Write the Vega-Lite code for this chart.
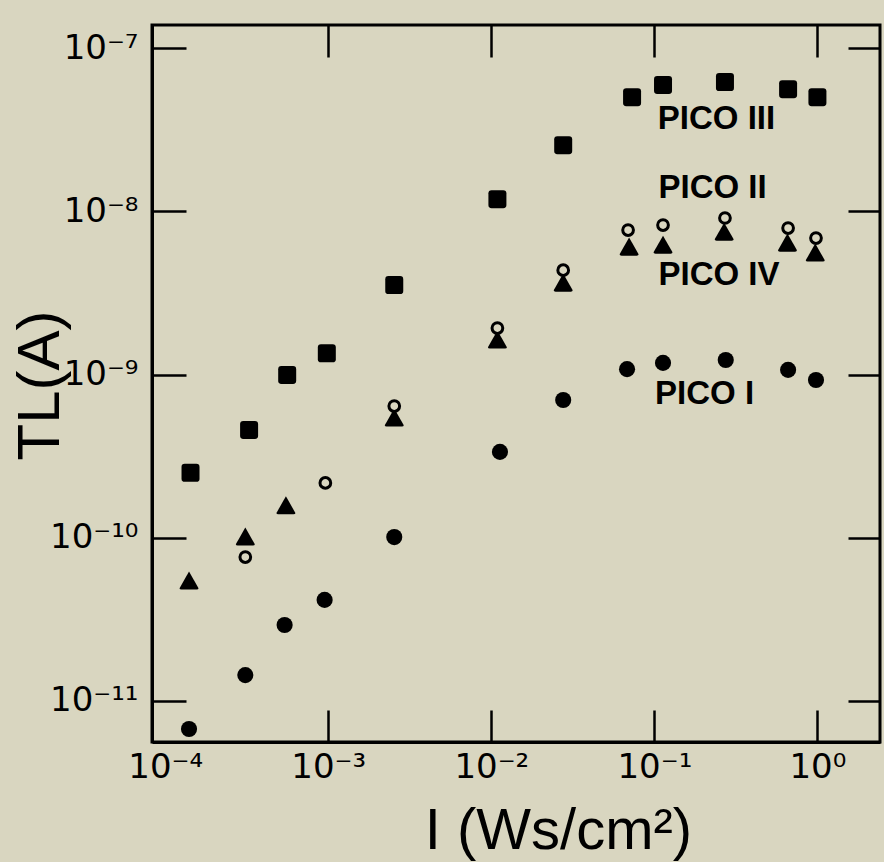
{
  "$schema": "https://vega.github.io/schema/vega-lite/v6.json",
  "width": 728,
  "height": 717,
  "autosize": {"type": "none"},
  "padding": {"left": 152, "top": 25, "right": 4, "bottom": 120},
  "background": "#d9d6c0",
  "config": {
    "view": {"stroke": "black", "strokeWidth": 3},
    "font": "Liberation Sans",
    "axis": {"grid": false}
  },
  "datasets": {
    "points": [
      {"series": "PICO III", "I": 0.000143, "TL": 2.5e-10},
      {"series": "PICO III", "I": 0.000327, "TL": 4.58e-10},
      {"series": "PICO III", "I": 0.00056, "TL": 9.95e-10},
      {"series": "PICO III", "I": 0.00098, "TL": 1.35e-9},
      {"series": "PICO III", "I": 0.00254, "TL": 3.54e-9},
      {"series": "PICO III", "I": 0.0109, "TL": 1.19e-8},
      {"series": "PICO III", "I": 0.0276, "TL": 2.55e-8},
      {"series": "PICO III", "I": 0.073, "TL": 5.02e-8},
      {"series": "PICO III", "I": 0.113, "TL": 5.96e-8},
      {"series": "PICO III", "I": 0.271, "TL": 6.21e-8},
      {"series": "PICO III", "I": 0.661, "TL": 5.62e-8},
      {"series": "PICO III", "I": 1.0, "TL": 5.02e-8},

      {"series": "PICO II", "I": 0.00031, "TL": 7.62e-11},
      {"series": "PICO II", "I": 0.00096, "TL": 2.17e-10},
      {"series": "PICO II", "I": 0.00254, "TL": 6.42e-10},
      {"series": "PICO II", "I": 0.0109, "TL": 1.93e-9},
      {"series": "PICO II", "I": 0.0276, "TL": 4.37e-9},
      {"series": "PICO II", "I": 0.069, "TL": 7.69e-9},
      {"series": "PICO II", "I": 0.113, "TL": 8.26e-9},
      {"series": "PICO II", "I": 0.271, "TL": 9.12e-9},
      {"series": "PICO II", "I": 0.661, "TL": 7.91e-9},
      {"series": "PICO II", "I": 0.98, "TL": 6.87e-9},

      {"series": "PICO IV", "I": 0.00014, "TL": 5.43e-11},
      {"series": "PICO IV", "I": 0.00031, "TL": 1.01e-10},
      {"series": "PICO IV", "I": 0.00055, "TL": 1.57e-10},
      {"series": "PICO IV", "I": 0.00254, "TL": 5.42e-10},
      {"series": "PICO IV", "I": 0.0109, "TL": 1.63e-9},
      {"series": "PICO IV", "I": 0.0276, "TL": 3.64e-9},
      {"series": "PICO IV", "I": 0.07, "TL": 6.05e-9},
      {"series": "PICO IV", "I": 0.113, "TL": 6.21e-9},
      {"series": "PICO IV", "I": 0.268, "TL": 7.46e-9},
      {"series": "PICO IV", "I": 0.655, "TL": 6.4e-9},
      {"series": "PICO IV", "I": 0.97, "TL": 5.56e-9},

      {"series": "PICO I", "I": 0.00014, "TL": 6.73e-12},
      {"series": "PICO I", "I": 0.00031, "TL": 1.44e-11},
      {"series": "PICO I", "I": 0.00054, "TL": 2.92e-11},
      {"series": "PICO I", "I": 0.00095, "TL": 4.16e-11},
      {"series": "PICO I", "I": 0.00254, "TL": 1.01e-10},
      {"series": "PICO I", "I": 0.0113, "TL": 3.36e-10},
      {"series": "PICO I", "I": 0.0276, "TL": 6.99e-10},
      {"series": "PICO I", "I": 0.068, "TL": 1.08e-9},
      {"series": "PICO I", "I": 0.113, "TL": 1.18e-9},
      {"series": "PICO I", "I": 0.274, "TL": 1.23e-9},
      {"series": "PICO I", "I": 0.661, "TL": 1.07e-9},
      {"series": "PICO I", "I": 0.98, "TL": 9.27e-10}
    ],
    "labels": [
      {"label": "PICO III", "I": 0.105, "TL": 3.68e-8},
      {"label": "PICO II", "I": 0.106, "TL": 1.39e-8},
      {"label": "PICO IV", "I": 0.106, "TL": 4.07e-9},
      {"label": "PICO I", "I": 0.101, "TL": 7.6e-10}
    ]
  },
  "resolve": {"axis": {"x": "independent", "y": "independent"}},
  "layer": [
    {
      "data": {"name": "points"},
      "transform": [{"filter": "datum.series === 'PICO III'"}],
      "mark": {
        "type": "point",
        "shape": "M-0.65,-1 L0.65,-1 Q1,-1 1,-0.65 L1,0.65 Q1,1 0.65,1 L-0.65,1 Q-1,1 -1,0.65 L-1,-0.65 Q-1,-1 -0.65,-1 Z",
        "filled": true,
        "fill": "black",
        "opacity": 1,
        "size": 324
      },
      "encoding": {
        "x": {
          "field": "I",
          "type": "quantitative",
          "scale": {"type": "log", "domain": [0.000083, 2.42], "nice": false},
          "axis": {
            "orient": "bottom",
            "values": [0.0001, 0.001, 0.01, 0.1, 1],
            "labelExpr": "datum.value < 0.0005 ? '10⁻⁴' : datum.value < 0.005 ? '10⁻³' : datum.value < 0.05 ? '10⁻²' : datum.value < 0.5 ? '10⁻¹' : '10⁰'",
            "domainColor": "black",
            "domainWidth": 3,
            "ticks": false,
            "labelPadding": 8,
            "labelFont": "DejaVu Sans",
            "labelFontSize": 34,
            "labelColor": "black",
            "labelBaseline": "top",
            "labelFlush": false,
            "labelOverlap": false,
            "title": "I (Ws/cm²)",
            "titleFont": "Liberation Sans",
            "titleFontSize": 58,
            "titleFontWeight": "normal",
            "titleColor": "black",
            "titleX": 406,
            "titleY": 106,
            "titleAlign": "center",
            "titleBaseline": "alphabetic"
          }
        },
        "y": {
          "field": "TL",
          "type": "quantitative",
          "scale": {"type": "log", "domain": [5.6e-12, 1.39e-7], "nice": false},
          "axis": {
            "orient": "left",
            "values": [1e-11, 1e-10, 1e-9, 1e-8, 1e-7],
            "labelExpr": "datum.value < 5e-11 ? '10⁻¹¹' : datum.value < 5e-10 ? '10⁻¹⁰' : datum.value < 5e-9 ? '10⁻⁹' : datum.value < 5e-8 ? '10⁻⁸' : '10⁻⁷'",
            "domainColor": "black",
            "domainWidth": 3,
            "ticks": false,
            "labelPadding": 14,
            "labelFont": "DejaVu Sans",
            "labelFontSize": 34,
            "labelColor": "black",
            "labelFlush": false,
            "labelOverlap": false,
            "title": "TL(A)",
            "titleFont": "Liberation Sans",
            "titleFontSize": 60,
            "titleFontWeight": "normal",
            "titleColor": "black",
            "titleAngle": -90,
            "titleX": -94,
            "titleY": 360,
            "titleAlign": "center",
            "titleBaseline": "alphabetic"
          }
        }
      }
    },
    {
      "data": {"name": "points"},
      "transform": [{"filter": "datum.series === 'PICO IV'"}],
      "mark": {
        "type": "point",
        "shape": "M0,-1 L1,0.75 Q1,0.9 0.8,0.9 L-0.8,0.9 Q-1,0.9 -1,0.75 Z",
        "filled": true,
        "fill": "black",
        "opacity": 1,
        "size": 361
      },
      "encoding": {
        "x": {"field": "I", "type": "quantitative", "scale": {"type": "log"}, "axis": null},
        "y": {"field": "TL", "type": "quantitative", "scale": {"type": "log"}, "axis": null}
      }
    },
    {
      "data": {"name": "points"},
      "transform": [{"filter": "datum.series === 'PICO II'"}],
      "mark": {
        "type": "point",
        "shape": "circle",
        "filled": false,
        "fill": "#d9d6c0",
        "fillOpacity": 1,
        "stroke": "black",
        "strokeWidth": 3,
        "opacity": 1,
        "size": 115
      },
      "encoding": {
        "x": {"field": "I", "type": "quantitative", "scale": {"type": "log"}, "axis": null},
        "y": {"field": "TL", "type": "quantitative", "scale": {"type": "log"}, "axis": null}
      }
    },
    {
      "data": {"name": "points"},
      "transform": [{"filter": "datum.series === 'PICO I'"}],
      "mark": {
        "type": "point",
        "shape": "circle",
        "filled": true,
        "fill": "black",
        "opacity": 1,
        "size": 260
      },
      "encoding": {
        "x": {"field": "I", "type": "quantitative", "scale": {"type": "log"}, "axis": null},
        "y": {"field": "TL", "type": "quantitative", "scale": {"type": "log"}, "axis": null}
      }
    },
    {
      "data": {"name": "labels"},
      "mark": {
        "type": "text",
        "align": "left",
        "baseline": "middle",
        "font": "Liberation Sans",
        "fontWeight": "bold",
        "fontSize": 33,
        "color": "black"
      },
      "encoding": {
        "x": {"field": "I", "type": "quantitative", "scale": {"type": "log"}, "axis": null},
        "y": {"field": "TL", "type": "quantitative", "scale": {"type": "log"}, "axis": null},
        "text": {"field": "label"}
      }
    },
    {
      "data": {"name": "points"},
      "mark": {"type": "point", "opacity": 0},
      "encoding": {
        "x": {
          "field": "I",
          "type": "quantitative",
          "scale": {"type": "log"},
          "axis": {
            "orient": "top",
            "offset": -717,
            "values": [0.001, 0.01, 0.1, 1],
            "labels": false,
            "title": null,
            "domain": false,
            "tickColor": "black",
            "tickWidth": 2.5,
            "tickSize": 32
          }
        },
        "y": {
          "field": "TL",
          "type": "quantitative",
          "scale": {"type": "log"},
          "axis": {
            "orient": "right",
            "offset": -728,
            "values": [1e-11, 1e-10, 1e-9, 1e-8, 1e-7],
            "labels": false,
            "title": null,
            "domain": false,
            "tickColor": "black",
            "tickWidth": 2.5,
            "tickSize": 34
          }
        }
      }
    },
    {
      "data": {"name": "points"},
      "mark": {"type": "point", "opacity": 0},
      "encoding": {
        "x": {
          "field": "I",
          "type": "quantitative",
          "scale": {"type": "log"},
          "axis": {
            "orient": "bottom",
            "offset": -717,
            "values": [0.001, 0.01, 0.1, 1],
            "labels": false,
            "title": null,
            "domain": false,
            "tickColor": "black",
            "tickWidth": 2.5,
            "tickSize": 32
          }
        },
        "y": {
          "field": "TL",
          "type": "quantitative",
          "scale": {"type": "log"},
          "axis": {
            "orient": "left",
            "offset": -728,
            "values": [1e-11, 1e-10, 1e-9, 1e-8, 1e-7],
            "labels": false,
            "title": null,
            "domain": false,
            "tickColor": "black",
            "tickWidth": 2.5,
            "tickSize": 32
          }
        }
      }
    }
  ]
}
